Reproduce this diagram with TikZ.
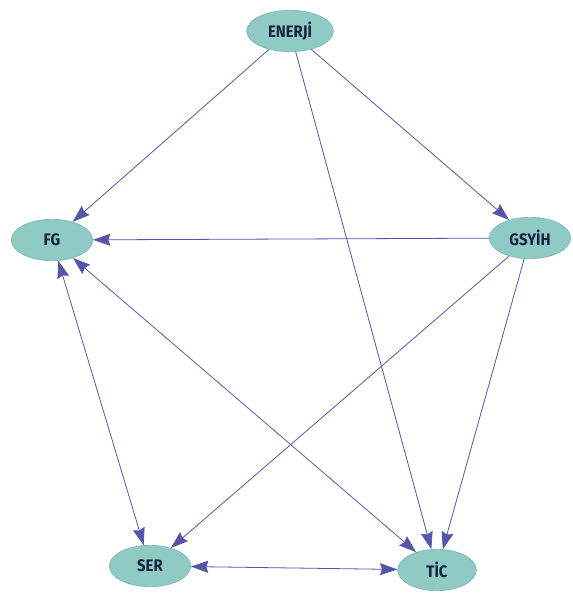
\documentclass[tikz,border=0pt]{standalone}
\usepackage{fontspec}
\setmainfont{Fira Sans}
\usetikzlibrary{arrows.meta,shapes.geometric}
\definecolor{nodefill}{HTML}{8FCAC4}
\definecolor{nodedraw}{HTML}{7DB8B2}
\definecolor{nodetext}{HTML}{15233F}
\definecolor{edgecol}{HTML}{5656A8}
\tikzset{
  vnode/.style={ellipse, fill=nodefill, draw=nodedraw, line width=0.5pt,
    minimum width=61pt, minimum height=31pt, inner sep=0pt,
    font=\bfseries\fontsize{12.5}{14}\selectfont, text=nodetext},
  tip/.tip={Stealth[length=13pt,width=9pt,inset=1.5pt]},
  edge/.style={draw=edgecol, line width=0.6pt, -tip},
  bedge/.style={draw=edgecol, line width=0.6pt, tip-tip}
}
\begin{document}
\begin{tikzpicture}[x=0.75pt,y=-0.75pt]
\useasboundingbox (0,0) rectangle (573,593);
\node[vnode, minimum width=65pt] (en) at (290,31) {\scalebox{0.9}[1]{ENERJİ}};
\node[vnode] (fg) at (52,240) {\scalebox{0.9}[1]{FG}};
\node[vnode] (gs) at (530,238) {\scalebox{0.9}[1]{GSYİH}};
\node[vnode] (ser) at (150,566) {\scalebox{0.9}[1]{SER}};
\node[vnode, minimum width=59pt] (tic) at (437,570) {\scalebox{0.9}[1]{TİC}};
\draw[edge] (en) -- (fg);
\draw[edge] (en) -- (gs);
\draw[edge] (en) -- (tic);
\draw[edge] (gs) -- (fg);
\draw[edge] (gs) -- (ser);
\draw[edge] (gs) -- (tic);
\draw[bedge] (fg) -- (ser);
\draw[bedge] (fg) -- (tic);
\draw[bedge] (ser) -- (tic);
\end{tikzpicture}
\end{document}
